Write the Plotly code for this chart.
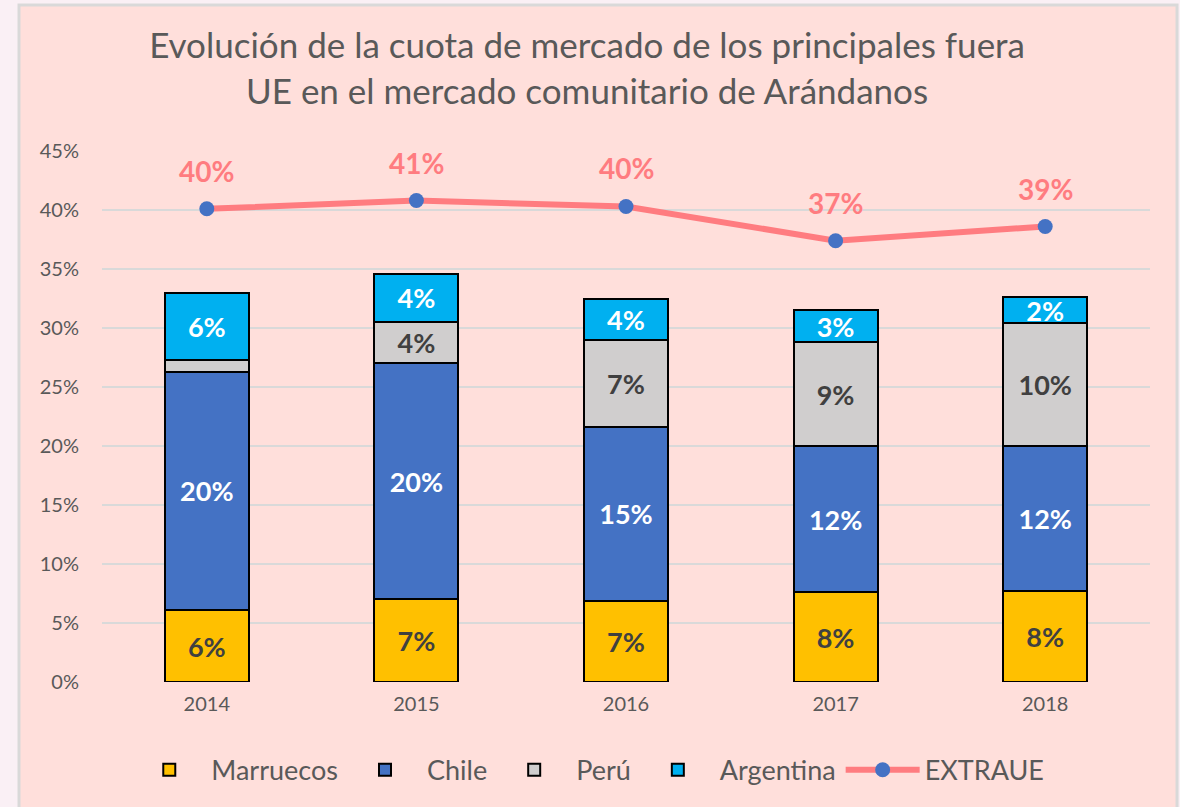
import plotly.graph_objects as go

years = ["2014", "2015", "2016", "2017", "2018"]
marruecos = [0.061, 0.070, 0.069, 0.076, 0.077]
chile = [0.202, 0.200, 0.147, 0.124, 0.123]
peru = [0.010, 0.035, 0.074, 0.088, 0.104]
argentina = [0.057, 0.041, 0.035, 0.027, 0.022]
extraue = [0.401, 0.408, 0.403, 0.374, 0.386]

FONT = "Lato"


def pct_labels(vals, min_show=0.015):
    return [f"{v * 100:.0f}%" if v >= min_show else "" for v in vals]


series = [
    ("Marruecos", marruecos, "#FFC000", "#404040"),
    ("Chile", chile, "#4472C4", "white"),
    ("Perú", peru, "#D0CECE", "#404040"),
    ("Argentina", argentina, "#00B0F0", "white"),
]

fig = go.Figure()

for name, vals, color, txtcolor in series:
    fig.add_trace(go.Bar(
        x=years, y=vals, name=name,
        marker=dict(color=color, line=dict(color="black", width=2)),
        text=pct_labels(vals),
        textposition="inside", insidetextanchor="middle",
        textangle=0, constraintext="none",
        textfont=dict(family=FONT, size=27, color=txtcolor, weight="bold"),
        hoverinfo="skip",
    ))

fig.add_trace(go.Scatter(
    x=years, y=extraue, name="EXTRAUE",
    mode="lines+markers",
    line=dict(color="#FF7C80", width=6),
    marker=dict(color="#4472C4", size=15),
))

# labels above the line points
for i, v in enumerate(extraue):
    fig.add_annotation(
        x=i, y=v, text=f"{v * 100:.0f}%", showarrow=False,
        yshift=38, font=dict(family=FONT, size=28, color="#FF7C80", weight="bold"),
    )

# chart area box
fig.add_shape(
    type="rect", xref="paper", yref="paper",
    x0=-0.0792, x1=1.0258, y0=-0.35, y1=1.275,
    fillcolor="#FFDFDB", line=dict(color="#D9D9D9", width=3),
    layer="below",
)

fig.update_layout(
    width=1180, height=807,
    barmode="stack", bargap=0.6,
    paper_bgcolor="#FAF0F5",
    plot_bgcolor="rgba(0,0,0,0)",
    margin=dict(l=102, r=30, t=151, b=125),
    font=dict(family=FONT, color="#595959"),
    title=dict(
        text="Evolución de la cuota de mercado de los principales fuera<br>UE en el mercado comunitario de Arándanos",
        x=0.4975, xanchor="center", y=0.928, yanchor="middle",
        font=dict(family=FONT, size=35, color="#595959"),
    ),
    xaxis=dict(
        type="category", range=[-0.5, 4.5],
        tickfont=dict(size=20, color="#595959"),
        showgrid=False, showline=False, ticks="",
        ticklabelstandoff=8,
    ),
    yaxis=dict(
        range=[0, 0.45], dtick=0.05, tickformat=".0%",
        tickfont=dict(size=20, color="#595959"),
        gridcolor="#D9D9D9", gridwidth=2,
        zeroline=False, showline=False, ticks="",
        ticklabelstandoff=22,
    ),
    legend=dict(
        orientation="h", x=0.464, xanchor="center", y=-0.166, yanchor="middle",
        font=dict(size=27, color="#595959"),
        bgcolor="rgba(0,0,0,0)", traceorder="normal",
        itemwidth=74,
    ),
    showlegend=True,
)

fig.write_html("out.html", config={"displayModeBar": False},
               post_script="document.body.style.margin='0px';")
